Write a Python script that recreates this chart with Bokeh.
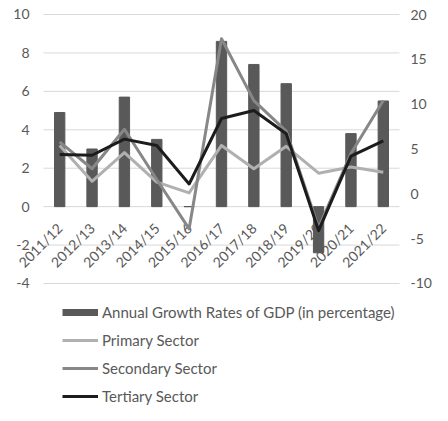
import numpy as np
from bokeh.plotting import figure
from bokeh.models import Range1d, Legend, LegendItem, LabelSet, ColumnDataSource
from bokeh.core.properties import value
from bokeh.embed import file_html
from bokeh.resources import INLINE

categories = ["2011/12", "2012/13", "2013/14", "2014/15", "2015/16", "2016/17",
              "2017/18", "2018/19", "2019/20", "2020/21", "2021/22"]
gdp = [4.9, 3.0, 5.7, 3.5, 0.0, 8.6, 7.4, 6.4, -2.4, 3.8, 5.5]
primary = [5.4, 1.4, 4.6, 1.3, 0.1, 5.4, 2.8, 5.3, 2.3, 3.0, 2.4]
secondary = [5.8, 2.8, 7.2, 1.6, -3.9, 17.3, 10.4, 7.0, -3.8, 4.5, 10.4]
tertiary = [4.4, 4.3, 6.1, 5.4, 1.1, 8.4, 9.3, 6.7, -4.1, 4.2, 5.9]
left_ticks = [-4, -2, 0, 2, 4, 6, 8, 10]
right_ticks = [-10, -5, 0, 5, 10, 15, 20]
series_names = ["Annual Growth Rates of GDP (in percentage)", "Primary Sector",
                "Secondary Sector", "Tertiary Sector"]

FONT = "Lato"
TEXT = "#595959"
BAR = "#595959"
GRID = "#d9d9d9"
C_PRI = "#b0b0b0"
C_SEC = "#878787"
C_TER = "#1c1c1c"

n = len(categories)
xi = np.arange(n)                 # category slots
x_lo, x_hi = -0.5, n - 0.5        # edges of the category band

# the frame covers the whole canvas, so every text lies inside it
p = figure(x_range=Range1d(-1.829, 11.52), y_range=Range1d(-10.35, 10.7286),
           width=432, height=405, output_backend="svg", toolbar_location=None,
           x_axis_location=None, y_axis_location=None,
           min_border_left=0, min_border_right=0, min_border_top=0, min_border_bottom=0)
p.extra_y_ranges = {"right": Range1d(-23.607, 21.563)}
p.outline_line_color = None
p.background_fill_color = "white"
p.border_fill_color = "white"
p.grid.visible = False

# horizontal gridlines at the left-axis ticks, spanning the category band
p.segment(x0=x_lo, x1=x_hi, y0=left_ticks, y1=left_ticks, line_color=GRID,
          line_width=1, level="underlay")

# left and right tick labels
left_src = ColumnDataSource(dict(y=left_ticks, t=[str(v) for v in left_ticks]))
p.add_layout(LabelSet(x=x_lo, y="y", text="t", source=left_src, level="underlay",
                      x_offset=-14, text_align="right", text_baseline="middle",
                      text_font=value(FONT), text_font_size="14px", text_color=TEXT))
right_src = ColumnDataSource(dict(y=right_ticks, t=[str(v) for v in right_ticks]))
p.add_layout(LabelSet(x=x_hi, y="y", text="t", source=right_src, y_range_name="right",
                      level="underlay", x_offset=11, text_align="left",
                      text_baseline="middle", text_font=value(FONT), text_font_size="14px",
                      text_color=TEXT))

# category labels sitting at the zero line, beneath bars and lines
cat_src = ColumnDataSource(dict(x=xi, t=categories))
p.add_layout(LabelSet(x="x", y=0, text="t", source=cat_src, level="underlay",
                      angle=45, angle_units="deg", text_align="right",
                      text_baseline="middle", x_offset=0, y_offset=-19,
                      text_font=value(FONT), text_font_size="14px", text_color=TEXT))

p.vbar(x=xi, top=gdp, width=0.32, color=BAR)
r_pri = p.line(xi, primary, y_range_name="right", line_width=3, color=C_PRI, line_join="round")
r_sec = p.line(xi, secondary, y_range_name="right", line_width=3, color=C_SEC, line_join="round")
r_ter = p.line(xi, tertiary, y_range_name="right", line_width=3, color=C_TER, line_join="round")

# legend swatch for the bars (a wide line, not drawn in the plot)
bar_proxy = p.line(x=xi[:1], y=[float("nan")], line_width=7, color=BAR, line_cap="butt")

legend = Legend(items=[LegendItem(label=series_names[0], renderers=[bar_proxy]),
                       LegendItem(label=series_names[1], renderers=[r_pri]),
                       LegendItem(label=series_names[2], renderers=[r_sec]),
                       LegendItem(label=series_names[3], renderers=[r_ter])],
                location=(62, 0), orientation="vertical", glyph_width=36,
                glyph_height=18, label_height=18, spacing=10, label_standoff=4,
                padding=0, margin=0, border_line_color=None, background_fill_alpha=0,
                label_text_font=FONT, label_text_font_size="15px", label_text_color=TEXT)
p.add_layout(legend, "center")

open("out.html", "w").write(file_html(p, INLINE))
